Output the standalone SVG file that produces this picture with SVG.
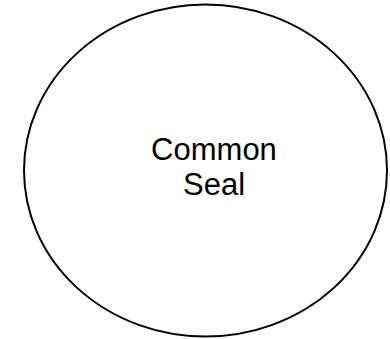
<svg xmlns="http://www.w3.org/2000/svg" width="390" height="339" viewBox="0 0 390 339">
<style>
.node{fill:#ffffff;stroke:#000000;stroke-width:2}
.lbl{font-family:"Liberation Sans",Arial,sans-serif;font-size:31px;fill:#000000;text-anchor:middle}
</style>
<rect width="390" height="339" fill="#ffffff"/>
<g id="connectors"></g>
<g id="common-seal">
<ellipse class="node" cx="205.5" cy="170.5" rx="181.5" ry="166"/>
<text class="lbl" x="214" y="160">Common</text>
<text class="lbl" x="214" y="195">Seal</text>
</g>
</svg>
